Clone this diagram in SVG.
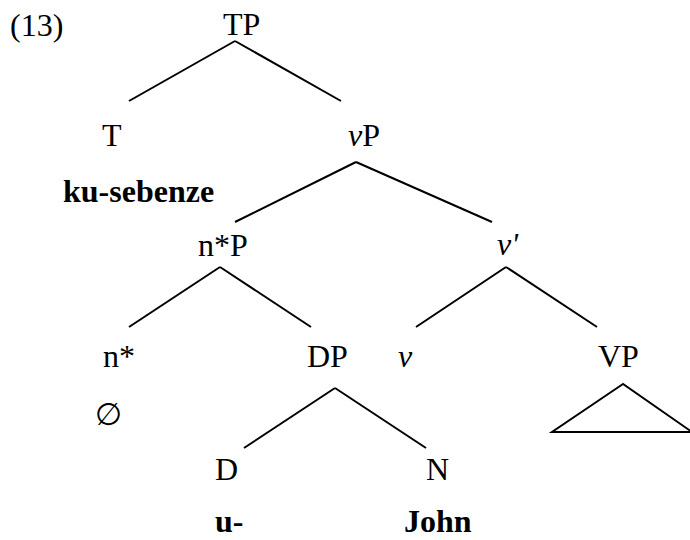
<svg xmlns="http://www.w3.org/2000/svg" width="690" height="540" viewBox="0 0 690 540">
<style>
text{font-family:'Liberation Serif',Tinos,'Times New Roman','Nimbus Roman','DejaVu Serif',serif;font-size:32px;fill:#000}
.b{font-weight:bold}
.i{font-style:italic}
line,polygon{stroke:#000;stroke-width:2;fill:none}
</style>
<rect width="690" height="540" fill="#fff"/>
<text x="10" y="36">(13)</text>
<g id="TP"><text x="223" y="35">TP</text></g>
<g id="T"><text x="102" y="146">T</text><text class="b" x="63" y="202">ku-sebenze</text></g>
<g id="vP"><text x="348" y="146"><tspan class="i">v</tspan>P</text></g>
<g id="nstarP"><text x="198" y="256">n*P</text></g>
<g id="vbar"><text class="i" x="497" y="255">v'</text></g>
<g id="nstar"><text x="103" y="367">n*</text><text x="95" y="425" style="font-family:'DejaVu Sans',sans-serif;font-size:31px">∅</text></g>
<g id="DP"><text x="307" y="367">DP</text></g>
<g id="v"><text class="i" x="398" y="367">v</text></g>
<g id="VP"><text x="598" y="367">VP</text><polygon points="623,384 552,432 692,432"/></g>
<g id="D"><text x="215" y="480">D</text><text class="b" x="215" y="532">u-</text></g>
<g id="N"><text x="426" y="480">N</text><text class="b" x="404" y="532">John</text></g>
<g id="connectors">
<line x1="235" y1="41" x2="129" y2="101"/>
<line x1="235" y1="41" x2="341" y2="101"/>
<line x1="356" y1="162" x2="235" y2="222"/>
<line x1="356" y1="162" x2="492" y2="222"/>
<line x1="220" y1="267" x2="129" y2="327"/>
<line x1="220" y1="267" x2="311" y2="327"/>
<line x1="506" y1="267" x2="416" y2="327"/>
<line x1="506" y1="267" x2="597" y2="327"/>
<line x1="335" y1="388" x2="244" y2="448"/>
<line x1="335" y1="388" x2="426" y2="448"/>
</g>
</svg>
